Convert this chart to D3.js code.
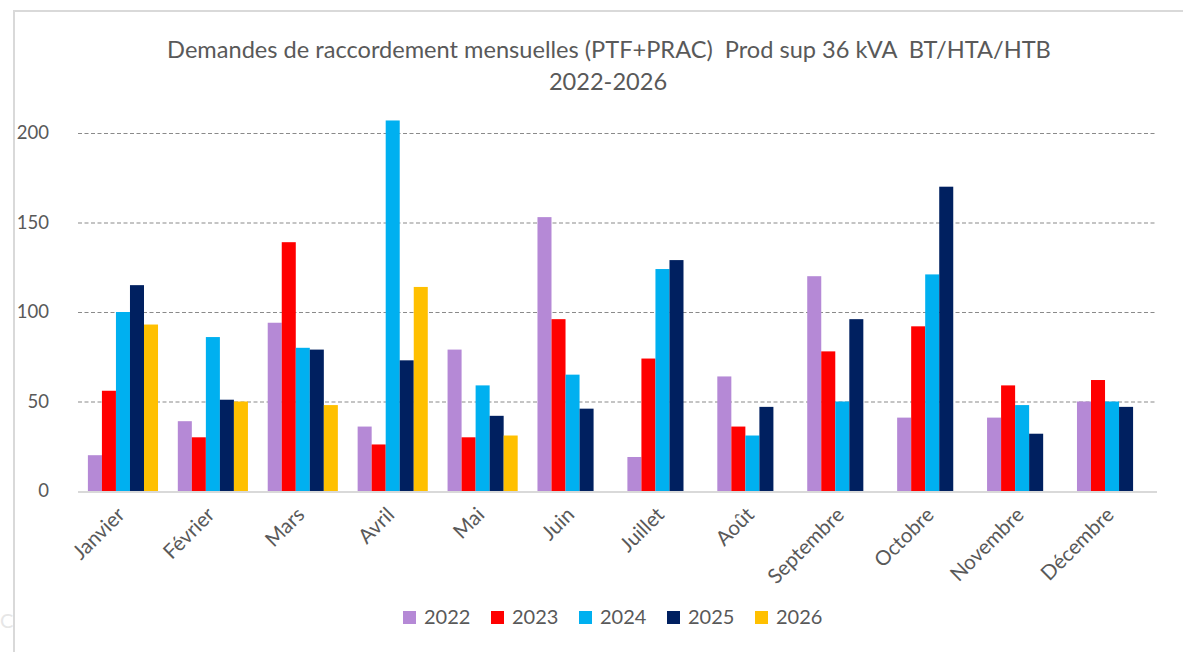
<!DOCTYPE html>
<html>
<head>
<meta charset="utf-8">
<script src="https://cdn.jsdelivr.net/npm/d3@7"></script>
<style>
  body { margin: 0; background: #fff; }
  svg { display: block; font-family: Lato, "Open Sans", sans-serif; }
</style>
</head>
<body>
<div id="chart"></div>
<script>
// data
const months = ["Janvier", "Février", "Mars", "Avril", "Mai", "Juin",
  "Juillet", "Août", "Septembre", "Octobre", "Novembre", "Décembre"];
const years = ["2022", "2023", "2024", "2025", "2026"];
const v2022 = [20, 39, 94, 36, 79, 153, 19, 64, 120, 41, 41, 50];
const v2023 = [56, 30, 139, 26, 30, 96, 74, 36, 78, 92, 59, 62];
const v2024 = [100, 86, 80, 207, 59, 65, 124, 31, 50, 121, 48, 50];
const v2025 = [115, 51, 79, 73, 42, 46, 129, 47, 96, 170, 32, 47];
const v2026 = [93, 50, 48, 114, 31, null, null, null, null, null, null, null];
const yTicks = [0, 50, 100, 150, 200];
const colors = ["#b589d6", "#ff0000", "#00b0f0", "#002060", "#ffc000"];
const title1 = "Demandes de raccordement mensuelles (PTF+PRAC)  Prod sup 36 kVA  BT/HTA/HTB";
const title2 = "2022-2026";

const series = [v2022, v2023, v2024, v2025, v2026];

////////////////////////////  Init  ///////////////////////////////
const width = 1183, height = 652;
const margin = { top: 133, right: 26, bottom: 161, left: 78 };

const svg = d3.select("#chart").append("svg")
  .attr("width", width)
  .attr("height", height);

// chart frame (cut by the picture on right and bottom)
svg.append("rect")
  .attr("x", 14).attr("y", 11)
  .attr("width", 1300).attr("height", 800)
  .attr("fill", "none")
  .attr("stroke", "#d9d9d9")
  .attr("stroke-width", 2);

// faint cut-off glyph left of the frame
svg.append("text")
  .attr("x", 0).attr("y", 628)
  .attr("fill", "#e6e6e6")
  .attr("font-size", 20)
  .text("C");

// scales
const x0 = d3.scaleBand()
  .domain(months)
  .range([margin.left, width - margin.right])
  .paddingInner(0.22)
  .paddingOuter(0.11);

const x1 = d3.scaleBand()
  .domain(years)
  .range([0, x0.bandwidth()]);

const y = d3.scaleLinear()
  .domain([0, 200])
  .range([height - margin.bottom, margin.top]);

// grid
svg.append("g")
  .selectAll("line")
  .data(yTicks.filter((d) => d > 0))
  .join("line")
  .attr("x1", margin.left)
  .attr("x2", width - margin.right)
  .attr("y1", (d) => y(d) + 0.5)
  .attr("y2", (d) => y(d) + 0.5)
  .attr("stroke", "#8a8a8a")
  .attr("stroke-width", 1.2)
  .attr("stroke-dasharray", "4 2.5");

// y labels
const yAxis = d3.axisLeft(y).tickValues(yTicks).tickSize(0).tickPadding(0);
svg.append("g")
  .attr("transform", `translate(${49}, 0)`)
  .call(yAxis)
  .call((g) => g.select(".domain").remove())
  .selectAll("text")
  .attr("font-family", "Lato, sans-serif")
  .attr("font-size", 18.5)
  .attr("fill", "#595959");

// bars
const groups = svg.append("g")
  .selectAll("g")
  .data(months)
  .join("g")
  .attr("transform", (d) => `translate(${x0(d)}, 0)`);

groups.selectAll("rect")
  .data((m, i) => years.map((yr, k) => ({ yr, v: series[k][i] })).filter((d) => d.v != null))
  .join("rect")
  .attr("x", (d) => x1(d.yr))
  .attr("width", x1.bandwidth())
  .attr("y", (d) => y(d.v))
  .attr("height", (d) => y(0) - y(d.v))
  .attr("fill", (d) => colors[years.indexOf(d.yr)]);

// zero axis
svg.append("line")
  .attr("x1", margin.left)
  .attr("x2", width - margin.right)
  .attr("y1", y(0) + 1)
  .attr("y2", y(0) + 1)
  .attr("stroke", "#d9d9d9")
  .attr("stroke-width", 2);

// month labels
svg.append("g")
  .selectAll("text")
  .data(months)
  .join("text")
  .attr("transform", (d) => `translate(${x0(d) + x0.bandwidth() / 2 + 3}, ${y(0) + 25}) rotate(-45)`)
  .attr("text-anchor", "end")
  .attr("font-size", 20.5)
  .attr("fill", "#595959")
  .text((d) => d);

// title
svg.append("text")
  .attr("x", 609).attr("y", 58)
  .attr("text-anchor", "middle")
  .attr("font-size", 23.6)
  .attr("fill", "#595959")
  .attr("xml:space", "preserve")
  .style("white-space", "pre")
  .text(title1);
svg.append("text")
  .attr("x", 608).attr("y", 90)
  .attr("text-anchor", "middle")
  .attr("font-size", 23.6)
  .attr("fill", "#595959")
  .text(title2);

// legend
const legend = svg.append("g")
  .selectAll("g")
  .data(years)
  .join("g")
  .attr("transform", (d, i) => `translate(${403 + i * 88}, 611)`);

legend.append("rect")
  .attr("width", 13).attr("height", 13)
  .attr("fill", (d, i) => colors[i]);

legend.append("text")
  .attr("x", 21).attr("y", 13)
  .attr("font-size", 20)
  .attr("fill", "#595959")
  .text((d) => d);
</script>
</body>
</html>
